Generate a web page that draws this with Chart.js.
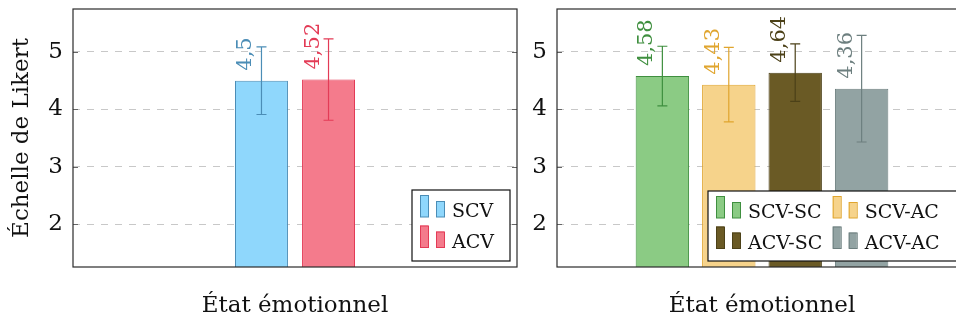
<!DOCTYPE html>
<html lang="fr">
<head>
  <meta charset="UTF-8" />
  <title>Échelle de Likert – État émotionnel</title>
  <script src="https://cdn.jsdelivr.net/npm/chart.js@4"></script>
  <style>
    html, body {
      margin: 0;
      padding: 0;
      background: #fff;
      overflow: hidden;
    }
    .panel { position: absolute; top: 0; }
    #leftPanel { left: 0; }
    #rightPanel { left: 520px; }
  </style>
</head>
<body>
  <div class="panel" id="leftPanel"><canvas id="leftChart" width="520" height="320"></canvas></div>
  <div class="panel" id="rightPanel"><canvas id="rightChart" width="456" height="320"></canvas></div>

  <script>
    const category = ['État émotionnel'];
    const yTicks = [2, 3, 4, 5];

    const leftSeries = ['SCV', 'ACV'];
    const leftMeans = [4.5, 4.52];
    const leftErrors = [0.59, 0.71];

    const rightSeries = ['SCV-SC', 'SCV-AC', 'ACV-SC', 'ACV-AC'];
    const rightMeans = [4.58, 4.43, 4.64, 4.36];
    const rightErrors = [0.52, 0.65, 0.50, 0.93];

    // fill and line colours per series
    const leftFill = ['#8fd7fc', '#f47b8c'];
    const leftLine = ['#4b8db6', '#e33b56'];
    const rightFill = ['#8bcb84', '#f6d38b', '#6a5a25', '#92a3a3'];
    const rightLine = ['#3f8f3f', '#e0a52e', '#4c4118', '#6d7f7f'];

    const serif = "'DejaVu Serif', serif";
    Chart.defaults.font.family = serif;
    Chart.defaults.color = '#111';

    // error bars + rotated value labels above each bar
    const errorBars = {
      id: 'errorBars',
      afterDatasetsDraw(chart) {
        const ctx = chart.ctx;
        const y = chart.scales.y;
        chart.data.datasets.forEach((ds, i) => {
          const bar = chart.getDatasetMeta(i).data[0];
          const v = ds.data[0], e = ds.errors[0];
          const top = y.getPixelForValue(v + e);
          const bot = y.getPixelForValue(v - e);
          ctx.save();
          ctx.strokeStyle = ds.borderColor;
          ctx.lineWidth = 1.2;
          ctx.beginPath();
          ctx.moveTo(bar.x, top); ctx.lineTo(bar.x, bot);
          ctx.moveTo(bar.x - 5, top); ctx.lineTo(bar.x + 5, top);
          ctx.moveTo(bar.x - 5, bot); ctx.lineTo(bar.x + 5, bot);
          ctx.stroke();

          ctx.translate(bar.x - 10, bar.y - 10);
          ctx.rotate(-Math.PI / 2);
          ctx.font = '21px ' + serif;
          ctx.fillStyle = ds.borderColor;
          ctx.textAlign = 'left';
          ctx.textBaseline = 'alphabetic';
          ctx.fillText(String(v).replace('.', ','), 0, 0);
          ctx.restore();
        });
      }
    };

    // axis box, inner tick marks and the boxed legend in the lower right corner
    const frameAndLegend = {
      id: 'frameAndLegend',
      afterDraw(chart, args, opts) {
        const ctx = chart.ctx;
        const a = chart.chartArea;
        const y = chart.scales.y;
        ctx.save();

        ctx.strokeStyle = '#666';
        ctx.lineWidth = 1;
        yTicks.forEach(t => {
          const py = Math.round(y.getPixelForValue(t)) + 0.5;
          ctx.beginPath();
          ctx.moveTo(a.left, py); ctx.lineTo(a.left + 5, py);
          ctx.moveTo(a.right - 5, py); ctx.lineTo(a.right, py);
          ctx.stroke();
        });

        ctx.strokeStyle = '#2b2b2b';
        ctx.lineWidth = 1.2;
        ctx.strokeRect(a.left, a.top, a.right - a.left, a.bottom - a.top);

        const bx = a.right - 7 - opts.width;
        const by = a.bottom - 6 - opts.height;
        ctx.fillStyle = '#fff';
        ctx.fillRect(bx, by, opts.width, opts.height);
        ctx.strokeStyle = '#111';
        ctx.strokeRect(bx, by, opts.width, opts.height);

        ctx.font = '19px ' + serif;
        ctx.textAlign = 'left';
        ctx.textBaseline = 'alphabetic';
        chart.data.datasets.forEach((ds, i) => {
          const col = i % opts.cols, row = Math.floor(i / opts.cols);
          const x0 = bx + 8 + col * 116.7;
          const base = by + 27 + row * 30.5;
          ctx.fillStyle = ds.backgroundColor;
          ctx.strokeStyle = ds.borderColor;
          ctx.lineWidth = 1;
          ctx.fillRect(x0, base - 22, 8, 22);
          ctx.strokeRect(x0 + 0.5, base - 21.5, 8, 21.5);
          ctx.fillRect(x0 + 16, base - 16, 8, 16);
          ctx.strokeRect(x0 + 16.5, base - 15.5, 8, 15.5);
          ctx.fillStyle = '#111';
          ctx.fillText(ds.label, x0 + 32, base);
        });
        ctx.restore();
      }
    };

    function makeChart(id, series, means, errors, fill, line, catPct, barPct, yWidth, padRight, legend, showTitle) {
      return new Chart(document.getElementById(id), {
        type: 'bar',
        data: {
          labels: category,
          datasets: series.map((s, i) => ({
            label: s,
            data: [means[i]],
            errors: [errors[i]],
            backgroundColor: fill[i],
            borderColor: line[i],
            borderWidth: 1,
            borderSkipped: false,
            categoryPercentage: catPct,
            barPercentage: barPct
          }))
        },
        options: {
          responsive: false,
          animation: false,
          layout: { padding: { top: 9, right: padRight, bottom: 0, left: 0 } },
          plugins: {
            legend: { display: false },
            tooltip: { enabled: false },
            frameAndLegend: legend
          },
          scales: {
            x: {
              grid: { display: false },
              border: { display: false },
              ticks: { font: { size: 23 }, padding: 17, color: '#111', maxRotation: 0 },
              afterFit: s => {
                s.height = 53;
                s.paddingLeft = 0; s.paddingRight = 0;
              }
            },
            y: {
              min: 1.25,
              max: 5.75,
              afterBuildTicks: s => { s.ticks = yTicks.map(v => ({ value: v })); },
              grid: { color: '#c8c8c8', lineWidth: 1, drawTicks: false },
              border: { display: false, dash: [7, 7] },
              ticks: { font: { size: 23 }, padding: 10, color: '#111' },
              title: {
                display: showTitle,
                text: 'Échelle de Likert',
                font: { size: 23 },
                padding: { top: 8, bottom: 0 },
                color: '#111'
              },
              afterFit: s => {
                s.width = yWidth;
                s.paddingTop = 0; s.paddingBottom = 0;
              }
            }
          }
        },
        plugins: [errorBars, frameAndLegend]
      });
    }

    makeChart('leftChart', leftSeries, leftMeans, leftErrors, leftFill, leftLine,
      0.302, 0.79, 73, 3, { cols: 1, width: 98, height: 71 }, true);
    makeChart('rightChart', rightSeries, rightMeans, rightErrors, rightFill, rightLine,
      0.648, 0.804, 37, 9, { cols: 2, width: 252, height: 70 }, false);
  </script>
</body>
</html>
